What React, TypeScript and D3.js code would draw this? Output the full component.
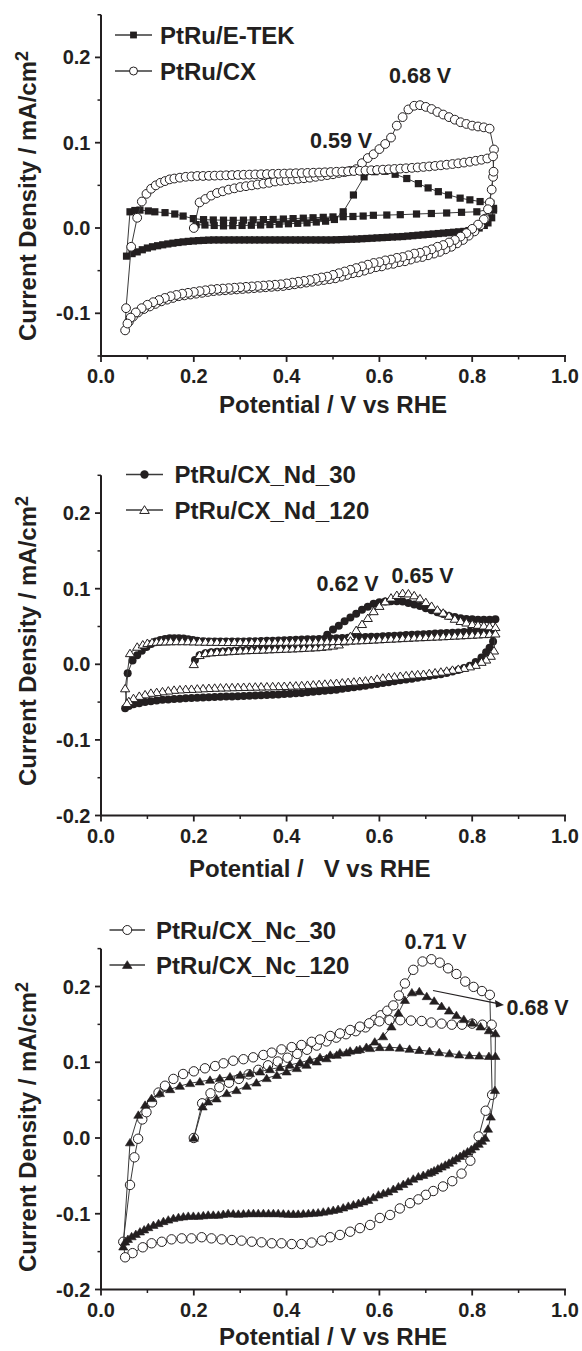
import React from "react";
import * as d3 from "d3";

type Pt = [number, number];
type Shape = "square" | "openCircle" | "dot" | "openTri" | "tri";

// ---------- tick values ----------
const xTickValues = [0, 0.2, 0.4, 0.6, 0.8, 1.0];
const xMinorValues = [0.1, 0.3, 0.5, 0.7, 0.9];
const yTicksA = [-0.1, 0, 0.1, 0.2];
const yMinorA = [-0.15, -0.05, 0.05, 0.15, 0.25];
const yTicksB = [-0.2, -0.1, 0, 0.1, 0.2];
const yMinorB = [-0.15, -0.05, 0.05, 0.15, 0.25];

// ---------- Panel 1 : PtRu/E-TEK (filled squares) ----------
const etekFirst: Pt[] = [[0.205,0.004],[0.224,0.0035],[0.244,0.003],[0.264,0.0025],[0.284,0.0028],[0.304,0.003],[0.324,0.0032],[0.344,0.0035],[0.364,0.004],[0.384,0.0045],[0.404,0.005],[0.424,0.0055],[0.444,0.006],[0.464,0.007],[0.484,0.008],[0.503,0.010],[0.522,0.019],[0.544,0.0387],[0.567,0.060],[0.590,0.066],[0.612,0.0665],[0.634,0.063],[0.659,0.058],[0.684,0.052],[0.705,0.047],[0.727,0.0426],[0.749,0.0387],[0.774,0.035],[0.795,0.033],[0.817,0.031],[0.840,0.029]];
const etekCathodic: Pt[] = [[0.846,0.021],[0.842,0.012],[0.834,0.006],[0.826,0.003],[0.815,0.000],[0.804,-0.0015],[0.793,-0.003],[0.782,-0.004],[0.771,-0.0045],[0.760,-0.005],[0.749,-0.0055],[0.738,-0.006],[0.727,-0.0065],[0.716,-0.007],[0.705,-0.0075],[0.694,-0.008],[0.683,-0.0085],[0.672,-0.009],[0.661,-0.0095],[0.650,-0.010],[0.639,-0.0103],[0.628,-0.0106],[0.617,-0.011],[0.606,-0.0113],[0.595,-0.0116],[0.584,-0.012],[0.573,-0.0123],[0.562,-0.0126],[0.551,-0.013],[0.540,-0.0132],[0.529,-0.0134],[0.518,-0.0136],[0.507,-0.0138],[0.496,-0.014],[0.485,-0.014],[0.474,-0.014],[0.463,-0.014],[0.452,-0.014],[0.441,-0.014],[0.430,-0.014],[0.419,-0.014],[0.408,-0.014],[0.397,-0.014],[0.386,-0.014],[0.375,-0.014],[0.364,-0.014],[0.353,-0.014],[0.342,-0.014],[0.331,-0.014],[0.320,-0.014],[0.309,-0.014],[0.298,-0.014],[0.287,-0.014],[0.276,-0.014],[0.265,-0.014],[0.254,-0.014],[0.243,-0.014],[0.232,-0.0142],[0.221,-0.0145],[0.210,-0.0148],[0.199,-0.0152],[0.188,-0.0157],[0.177,-0.0163],[0.166,-0.017],[0.155,-0.0178],[0.144,-0.0187],[0.133,-0.0197],[0.122,-0.0208],[0.111,-0.022],[0.100,-0.0235],[0.089,-0.0255],[0.078,-0.028],[0.067,-0.030],[0.055,-0.033]];
const etekSecond: Pt[] = [[0.0625,0.019],[0.073,0.0205],[0.084,0.021],[0.102,0.020],[0.116,0.019],[0.138,0.018],[0.159,0.0164],[0.177,0.014],[0.199,0.011],[0.221,0.0098],[0.242,0.0094],[0.264,0.0092],[0.285,0.009],[0.307,0.0092],[0.328,0.0095],[0.350,0.0098],[0.371,0.010],[0.393,0.0105],[0.414,0.011],[0.436,0.0115],[0.457,0.012],[0.479,0.0125],[0.500,0.013],[0.522,0.0132],[0.543,0.0135],[0.565,0.014],[0.587,0.0149],[0.616,0.0152],[0.645,0.0156],[0.680,0.0164],[0.712,0.017],[0.745,0.0176],[0.777,0.0184],[0.810,0.019],[0.846,0.023]];

// ---------- Panel 1 : PtRu/CX (open circles) ----------
const cxFirst: Pt[] = [[0.200,0.000],[0.2125,0.030],[0.225,0.034],[0.2375,0.038],[0.250,0.041],[0.2625,0.043],[0.275,0.045],[0.2875,0.0465],[0.300,0.048],[0.3125,0.049],[0.325,0.050],[0.3375,0.051],[0.350,0.052],[0.3625,0.053],[0.375,0.0545],[0.3875,0.0553],[0.400,0.056],[0.4125,0.057],[0.425,0.0577],[0.4375,0.0583],[0.450,0.059],[0.4625,0.060],[0.475,0.061],[0.4875,0.062],[0.500,0.063],[0.5125,0.0645],[0.525,0.0655],[0.5375,0.067],[0.550,0.069],[0.5625,0.076],[0.575,0.082],[0.5875,0.0865],[0.600,0.0925],[0.6125,0.0985],[0.625,0.106],[0.6375,0.120],[0.650,0.130],[0.6625,0.139],[0.675,0.1433],[0.6875,0.144],[0.700,0.142],[0.7125,0.1395],[0.725,0.136],[0.7375,0.133],[0.750,0.130],[0.7625,0.127],[0.775,0.124],[0.7875,0.122],[0.800,0.120],[0.8125,0.119],[0.825,0.118],[0.8375,0.1165]];
const cxCathodic1: Pt[] = [[0.847,0.092],[0.845,0.060],[0.838,0.030],[0.828,0.011],[0.8175,0.003],[0.805,-0.004],[0.7925,-0.009],[0.780,-0.014],[0.7675,-0.018],[0.755,-0.022],[0.7425,-0.025],[0.730,-0.028],[0.7175,-0.030],[0.705,-0.032],[0.6925,-0.034],[0.680,-0.035],[0.6675,-0.037],[0.655,-0.039],[0.6425,-0.040],[0.630,-0.042],[0.6175,-0.043],[0.605,-0.045],[0.5925,-0.046],[0.580,-0.048],[0.5675,-0.050],[0.555,-0.052],[0.5425,-0.053],[0.530,-0.055],[0.5175,-0.057],[0.505,-0.059],[0.4925,-0.060],[0.480,-0.061],[0.4675,-0.062],[0.455,-0.063],[0.4425,-0.064],[0.430,-0.065],[0.4175,-0.066],[0.405,-0.067],[0.3925,-0.068],[0.380,-0.0685],[0.3675,-0.069],[0.355,-0.0695],[0.3425,-0.070],[0.330,-0.0705],[0.3175,-0.071],[0.305,-0.0715],[0.2925,-0.072],[0.280,-0.0725],[0.2675,-0.073],[0.255,-0.0735],[0.2425,-0.074],[0.230,-0.075],[0.2175,-0.076],[0.205,-0.077],[0.1925,-0.078],[0.180,-0.079],[0.1675,-0.080],[0.155,-0.082],[0.1425,-0.084],[0.130,-0.086],[0.1175,-0.089],[0.105,-0.092],[0.0925,-0.095],[0.080,-0.099],[0.069,-0.104],[0.060,-0.110],[0.052,-0.120]];
const cxRise: Pt[] = [[0.054,-0.094],[0.065,-0.022],[0.078,0.012],[0.088,0.031]];
const cxSecond: Pt[] = [[0.098,0.040],[0.108,0.046],[0.118,0.050],[0.128,0.053],[0.138,0.055],[0.148,0.057],[0.158,0.058],[0.170,0.059],[0.1825,0.060],[0.195,0.0605],[0.2075,0.061],[0.220,0.061],[0.2325,0.0612],[0.245,0.0614],[0.2575,0.0616],[0.270,0.0618],[0.2825,0.062],[0.295,0.0622],[0.3075,0.0624],[0.320,0.0626],[0.3325,0.0628],[0.345,0.063],[0.3575,0.0632],[0.370,0.0634],[0.3825,0.0636],[0.395,0.0638],[0.4075,0.064],[0.420,0.0642],[0.4325,0.0644],[0.445,0.0646],[0.4575,0.0648],[0.470,0.065],[0.4825,0.0653],[0.495,0.0656],[0.5075,0.0659],[0.520,0.0662],[0.5325,0.0665],[0.545,0.0668],[0.5575,0.0671],[0.570,0.0674],[0.5825,0.0677],[0.595,0.068],[0.6075,0.0684],[0.620,0.0688],[0.6325,0.0692],[0.645,0.0696],[0.6575,0.070],[0.670,0.0705],[0.6825,0.071],[0.695,0.0716],[0.7075,0.0722],[0.720,0.0728],[0.7325,0.0735],[0.745,0.0742],[0.7575,0.075],[0.770,0.0758],[0.7825,0.0767],[0.795,0.0777],[0.8075,0.0788],[0.820,0.080],[0.8325,0.0815],[0.845,0.084]];
const cxCathodic2: Pt[] = [[0.846,0.066],[0.842,0.045],[0.834,0.022],[0.825,0.010],[0.8125,0.004],[0.800,-0.001],[0.7875,-0.006],[0.775,-0.010],[0.7625,-0.014],[0.750,-0.017],[0.7375,-0.020],[0.725,-0.022],[0.7125,-0.025],[0.700,-0.027],[0.6875,-0.029],[0.675,-0.030],[0.6625,-0.032],[0.650,-0.034],[0.6375,-0.035],[0.625,-0.037],[0.6125,-0.038],[0.600,-0.040],[0.5875,-0.041],[0.575,-0.043],[0.5625,-0.045],[0.550,-0.047],[0.5375,-0.049],[0.525,-0.051],[0.5125,-0.053],[0.500,-0.055],[0.4875,-0.057],[0.475,-0.058],[0.4625,-0.0595],[0.450,-0.061],[0.4375,-0.062],[0.425,-0.063],[0.4125,-0.064],[0.400,-0.065],[0.3875,-0.066],[0.375,-0.0665],[0.3625,-0.067],[0.350,-0.0675],[0.3375,-0.068],[0.325,-0.0685],[0.3125,-0.069],[0.300,-0.0695],[0.2875,-0.070],[0.275,-0.0705],[0.2625,-0.071],[0.250,-0.0715],[0.2375,-0.072],[0.225,-0.073],[0.2125,-0.074],[0.200,-0.075],[0.1875,-0.076],[0.175,-0.077],[0.1625,-0.0785],[0.150,-0.080],[0.1375,-0.082],[0.125,-0.0845],[0.1125,-0.087],[0.100,-0.090],[0.0875,-0.094],[0.075,-0.099],[0.064,-0.105],[0.057,-0.112]];

// ---------- Panel 2 : PtRu/CX_Nd_30 (filled circles) ----------
const nd30First: Pt[] = [[0.2025,0.0057],[0.2125,0.012],[0.225,0.0145],[0.2375,0.0158],[0.250,0.0165],[0.2625,0.017],[0.275,0.0175],[0.2875,0.018],[0.300,0.0185],[0.3125,0.0188],[0.325,0.0192],[0.3375,0.0195],[0.350,0.0198],[0.3625,0.0202],[0.375,0.0206],[0.3875,0.021],[0.400,0.0215],[0.4125,0.022],[0.425,0.0226],[0.4375,0.0233],[0.450,0.0242],[0.4625,0.0265],[0.475,0.032],[0.4875,0.039],[0.500,0.046],[0.5125,0.051],[0.525,0.057],[0.5375,0.062],[0.550,0.067],[0.5625,0.072],[0.575,0.076],[0.5875,0.080],[0.600,0.082],[0.6125,0.083],[0.625,0.0835],[0.6375,0.0835],[0.650,0.083],[0.6625,0.081],[0.675,0.079],[0.6875,0.077],[0.700,0.074],[0.7125,0.0715],[0.725,0.069],[0.7375,0.0665],[0.750,0.064],[0.7625,0.0625],[0.775,0.061],[0.7875,0.060],[0.800,0.0595],[0.8125,0.059],[0.825,0.059],[0.8375,0.059],[0.850,0.0595]];
const nd30Cathodic: Pt[] = [[0.845,0.030],[0.8375,0.022],[0.830,0.016],[0.820,0.009],[0.8075,0.003],[0.795,-0.002],[0.7825,-0.005],[0.770,-0.0075],[0.7575,-0.0095],[0.745,-0.0115],[0.7325,-0.013],[0.720,-0.014],[0.7075,-0.0155],[0.695,-0.0165],[0.6825,-0.0178],[0.670,-0.019],[0.6575,-0.020],[0.645,-0.0212],[0.6325,-0.0224],[0.620,-0.0236],[0.6075,-0.0248],[0.595,-0.026],[0.5825,-0.0272],[0.570,-0.0283],[0.5575,-0.0294],[0.545,-0.0305],[0.5325,-0.0315],[0.520,-0.0325],[0.5075,-0.0335],[0.495,-0.0343],[0.4825,-0.035],[0.470,-0.0357],[0.4575,-0.0364],[0.445,-0.0371],[0.4325,-0.0378],[0.420,-0.0384],[0.4075,-0.0389],[0.395,-0.0394],[0.3825,-0.0398],[0.370,-0.0402],[0.3575,-0.0406],[0.345,-0.041],[0.3325,-0.0413],[0.320,-0.0416],[0.3075,-0.0419],[0.295,-0.0422],[0.2825,-0.0425],[0.270,-0.0427],[0.2575,-0.0429],[0.245,-0.0432],[0.2325,-0.0435],[0.220,-0.0438],[0.2075,-0.0441],[0.195,-0.0445],[0.1825,-0.045],[0.170,-0.0455],[0.1575,-0.046],[0.145,-0.0465],[0.1325,-0.047],[0.120,-0.0478],[0.1075,-0.049],[0.095,-0.050],[0.0825,-0.0515],[0.070,-0.053],[0.060,-0.055],[0.052,-0.058]];
const nd30Second: Pt[] = [[0.0575,-0.012],[0.068,0.005],[0.078,0.012],[0.088,0.018],[0.098,0.023],[0.108,0.027],[0.118,0.030],[0.128,0.032],[0.138,0.0335],[0.148,0.0343],[0.158,0.0345],[0.168,0.0343],[0.178,0.034],[0.188,0.0333],[0.198,0.032],[0.2075,0.031],[0.220,0.0305],[0.2325,0.030],[0.245,0.030],[0.2575,0.030],[0.270,0.030],[0.2825,0.030],[0.295,0.030],[0.3075,0.0302],[0.320,0.0304],[0.3325,0.0306],[0.345,0.0308],[0.3575,0.031],[0.370,0.0312],[0.3825,0.0315],[0.395,0.0318],[0.4075,0.0321],[0.420,0.0324],[0.4325,0.0327],[0.445,0.033],[0.4575,0.0333],[0.470,0.0336],[0.4825,0.0339],[0.495,0.0342],[0.5075,0.0345],[0.520,0.0348],[0.5325,0.0351],[0.545,0.0354],[0.5575,0.0357],[0.570,0.036],[0.5825,0.0363],[0.595,0.0366],[0.6075,0.037],[0.620,0.0374],[0.6325,0.0378],[0.645,0.0382],[0.6575,0.0386],[0.670,0.039],[0.6825,0.0394],[0.695,0.0398],[0.7075,0.0402],[0.720,0.0406],[0.7325,0.041],[0.745,0.0414],[0.7575,0.0418],[0.770,0.0422],[0.7825,0.0426],[0.795,0.043],[0.8075,0.0435],[0.820,0.044],[0.8325,0.0447],[0.845,0.0455]];

// ---------- Panel 2 : PtRu/CX_Nd_120 (open triangles) ----------
const nd120First: Pt[] = [[0.200,0.000],[0.2125,0.012],[0.225,0.0145],[0.2375,0.0155],[0.250,0.016],[0.2625,0.0165],[0.275,0.017],[0.2875,0.0175],[0.300,0.018],[0.3125,0.0183],[0.325,0.0186],[0.3375,0.0189],[0.350,0.0192],[0.3625,0.0195],[0.375,0.0198],[0.3875,0.0201],[0.400,0.0204],[0.4125,0.0207],[0.425,0.021],[0.4375,0.0214],[0.450,0.0218],[0.4625,0.0222],[0.475,0.0228],[0.4875,0.0235],[0.500,0.0245],[0.5125,0.026],[0.525,0.030],[0.5375,0.037],[0.550,0.045],[0.5625,0.053],[0.575,0.061],[0.5875,0.070],[0.600,0.077],[0.6125,0.083],[0.625,0.088],[0.6375,0.0915],[0.650,0.094],[0.6625,0.0935],[0.675,0.091],[0.6875,0.087],[0.700,0.082],[0.7125,0.077],[0.725,0.072],[0.7375,0.068],[0.750,0.064],[0.7625,0.060],[0.775,0.057],[0.7875,0.055],[0.800,0.053],[0.8125,0.052],[0.825,0.051],[0.8375,0.050],[0.850,0.049]];
const nd120Cathodic: Pt[] = [[0.847,0.018],[0.840,0.011],[0.830,0.006],[0.820,0.003],[0.8075,-0.001],[0.795,-0.003],[0.7825,-0.005],[0.770,-0.0063],[0.7575,-0.0075],[0.745,-0.0088],[0.7325,-0.010],[0.720,-0.011],[0.7075,-0.012],[0.695,-0.013],[0.6825,-0.0135],[0.670,-0.014],[0.6575,-0.0148],[0.645,-0.0156],[0.6325,-0.0164],[0.620,-0.0172],[0.6075,-0.018],[0.595,-0.0195],[0.5825,-0.021],[0.570,-0.0218],[0.5575,-0.0225],[0.545,-0.0232],[0.5325,-0.0238],[0.520,-0.0244],[0.5075,-0.025],[0.495,-0.0255],[0.4825,-0.026],[0.470,-0.0265],[0.4575,-0.027],[0.445,-0.0275],[0.4325,-0.028],[0.420,-0.0283],[0.4075,-0.0286],[0.395,-0.0289],[0.3825,-0.0291],[0.370,-0.0293],[0.3575,-0.0295],[0.345,-0.0296],[0.3325,-0.0298],[0.320,-0.030],[0.3075,-0.0302],[0.295,-0.0304],[0.2825,-0.0306],[0.270,-0.0308],[0.2575,-0.031],[0.245,-0.0313],[0.2325,-0.0316],[0.220,-0.032],[0.2075,-0.0324],[0.195,-0.0328],[0.1825,-0.033],[0.170,-0.0335],[0.1575,-0.034],[0.145,-0.035],[0.1325,-0.036],[0.120,-0.037],[0.1075,-0.038],[0.095,-0.040],[0.0825,-0.042],[0.070,-0.045],[0.060,-0.049],[0.056,-0.0516]];
const nd120Second: Pt[] = [[0.052,-0.032],[0.0625,0.0145],[0.078,0.023],[0.090,0.026],[0.100,0.028],[0.110,0.029],[0.120,0.0295],[0.130,0.030],[0.140,0.030],[0.150,0.0302],[0.1625,0.0303],[0.175,0.0303],[0.1875,0.0302],[0.200,0.030],[0.2125,0.0298],[0.225,0.0296],[0.2375,0.0295],[0.250,0.0294],[0.2625,0.0293],[0.275,0.0292],[0.2875,0.0292],[0.300,0.0292],[0.3125,0.0292],[0.325,0.0292],[0.3375,0.0293],[0.350,0.0293],[0.3625,0.0294],[0.375,0.0294],[0.3875,0.0295],[0.400,0.0295],[0.4125,0.0296],[0.425,0.0297],[0.4375,0.0298],[0.450,0.0299],[0.4625,0.030],[0.475,0.0301],[0.4875,0.0302],[0.500,0.0304],[0.5125,0.0306],[0.525,0.0308],[0.5375,0.031],[0.550,0.0313],[0.5625,0.0316],[0.575,0.032],[0.5875,0.0324],[0.600,0.0328],[0.6125,0.0332],[0.625,0.0336],[0.6375,0.034],[0.650,0.0344],[0.6625,0.0348],[0.675,0.0352],[0.6875,0.0355],[0.700,0.0358],[0.7125,0.0362],[0.725,0.0365],[0.7375,0.0368],[0.750,0.0372],[0.7625,0.0376],[0.775,0.038],[0.7875,0.0384],[0.800,0.0388],[0.8125,0.0392],[0.825,0.0396],[0.8375,0.040],[0.850,0.0405]];

// ---------- Panel 3 : PtRu/CX_Nc_30 (open circles) ----------
const nc30First: Pt[] = [[0.200,0.000],[0.218,0.0458],[0.236,0.059],[0.255,0.067],[0.276,0.073],[0.297,0.078],[0.318,0.084],[0.339,0.090],[0.360,0.096],[0.381,0.101],[0.402,0.106],[0.423,0.111],[0.444,0.1165],[0.465,0.122],[0.486,0.1275],[0.507,0.1325],[0.528,0.137],[0.549,0.141],[0.570,0.146],[0.590,0.156],[0.603,0.162],[0.617,0.168],[0.630,0.175],[0.642,0.188],[0.655,0.204],[0.673,0.222],[0.693,0.233],[0.712,0.236],[0.730,0.2315],[0.748,0.224],[0.766,0.2165],[0.785,0.2065],[0.803,0.1995],[0.821,0.194],[0.838,0.189]];
const nc30Cathodic: Pt[] = [[0.843,0.057],[0.829,0.036],[0.814,0.002],[0.796,-0.030],[0.777,-0.047],[0.757,-0.057],[0.737,-0.064],[0.716,-0.070],[0.700,-0.075],[0.684,-0.081],[0.666,-0.086],[0.644,-0.093],[0.623,-0.1016],[0.601,-0.1056],[0.580,-0.1148],[0.558,-0.119],[0.537,-0.1237],[0.515,-0.128],[0.494,-0.131],[0.476,-0.1355],[0.454,-0.138],[0.432,-0.140],[0.411,-0.140],[0.389,-0.139],[0.368,-0.139],[0.346,-0.1377],[0.325,-0.1369],[0.303,-0.1355],[0.282,-0.1347],[0.260,-0.1338],[0.238,-0.1325],[0.217,-0.131],[0.195,-0.1325],[0.174,-0.1325],[0.152,-0.1338],[0.131,-0.137],[0.109,-0.139],[0.090,-0.1443],[0.068,-0.152],[0.052,-0.1575]];
const nc30Second: Pt[] = [[0.048,-0.137],[0.0625,-0.062],[0.072,-0.0255],[0.080,-0.001],[0.089,0.0245],[0.098,0.034],[0.110,0.047],[0.124,0.060],[0.138,0.069],[0.156,0.078],[0.177,0.0845],[0.200,0.088],[0.224,0.092],[0.246,0.095],[0.264,0.0986],[0.285,0.102],[0.307,0.104],[0.328,0.1065],[0.350,0.1096],[0.368,0.1127],[0.389,0.117],[0.411,0.120],[0.432,0.1228],[0.454,0.127],[0.472,0.130],[0.494,0.1347],[0.515,0.138],[0.537,0.1426],[0.558,0.147],[0.578,0.1514],[0.600,0.154],[0.622,0.1555],[0.645,0.1555],[0.668,0.155],[0.691,0.1545],[0.712,0.1525],[0.734,0.151],[0.756,0.1496],[0.778,0.1496],[0.800,0.151],[0.822,0.1496],[0.842,0.1496]];

// ---------- Panel 3 : PtRu/CX_Nc_120 (filled triangles) ----------
const nc120First: Pt[] = [[0.200,0.000],[0.219,0.0414],[0.231,0.048],[0.249,0.052],[0.271,0.059],[0.292,0.063],[0.314,0.0686],[0.335,0.073],[0.357,0.0788],[0.379,0.083],[0.400,0.0876],[0.422,0.092],[0.443,0.0964],[0.465,0.1008],[0.486,0.105],[0.508,0.1096],[0.529,0.1127],[0.551,0.116],[0.572,0.120],[0.590,0.127],[0.608,0.134],[0.626,0.147],[0.641,0.165],[0.655,0.182],[0.670,0.192],[0.686,0.1935],[0.702,0.187],[0.718,0.181],[0.734,0.174],[0.750,0.168],[0.766,0.162],[0.782,0.1567],[0.800,0.152],[0.818,0.147],[0.836,0.142],[0.850,0.138]];
const nc120Cathodic: Pt[] = [[0.849,0.063],[0.840,0.028],[0.834,0.012],[0.828,0.000],[0.821,-0.004],[0.814,-0.008],[0.806,-0.0115],[0.798,-0.015],[0.790,-0.018],[0.782,-0.021],[0.774,-0.024],[0.766,-0.027],[0.758,-0.030],[0.750,-0.033],[0.742,-0.0355],[0.734,-0.038],[0.726,-0.0405],[0.718,-0.043],[0.7115,-0.045],[0.705,-0.0466],[0.6945,-0.049],[0.684,-0.051],[0.673,-0.054],[0.662,-0.0576],[0.6515,-0.061],[0.641,-0.0642],[0.630,-0.0675],[0.619,-0.0708],[0.6085,-0.073],[0.598,-0.075],[0.587,-0.0785],[0.576,-0.082],[0.5655,-0.084],[0.555,-0.086],[0.544,-0.088],[0.533,-0.0898],[0.522,-0.092],[0.511,-0.094],[0.5005,-0.0952],[0.490,-0.0964],[0.479,-0.0975],[0.468,-0.0986],[0.4575,-0.099],[0.447,-0.0995],[0.436,-0.0999],[0.425,-0.1003],[0.4145,-0.1003],[0.404,-0.1003],[0.393,-0.100],[0.382,-0.0995],[0.3715,-0.0995],[0.361,-0.0995],[0.350,-0.0995],[0.339,-0.0995],[0.3285,-0.0995],[0.318,-0.0995],[0.307,-0.100],[0.296,-0.1003],[0.285,-0.100],[0.274,-0.0995],[0.2635,-0.1005],[0.253,-0.1016],[0.242,-0.1016],[0.231,-0.1016],[0.2205,-0.1023],[0.210,-0.103],[0.199,-0.103],[0.188,-0.103],[0.1775,-0.1038],[0.167,-0.1047],[0.156,-0.106],[0.145,-0.108],[0.1345,-0.110],[0.124,-0.1127],[0.113,-0.115],[0.102,-0.118],[0.093,-0.121],[0.084,-0.1237],[0.075,-0.127],[0.066,-0.130],[0.058,-0.1335],[0.052,-0.137],[0.048,-0.1435]];
const nc120Second: Pt[] = [[0.0625,-0.006],[0.0805,0.0304],[0.095,0.0436],[0.109,0.0524],[0.127,0.059],[0.149,0.0642],[0.170,0.0686],[0.192,0.0722],[0.213,0.0744],[0.235,0.0766],[0.256,0.0788],[0.278,0.081],[0.300,0.0832],[0.321,0.0854],[0.343,0.0876],[0.364,0.0906],[0.386,0.0933],[0.407,0.0964],[0.429,0.0995],[0.450,0.103],[0.472,0.1065],[0.494,0.1096],[0.515,0.1127],[0.537,0.115],[0.558,0.117],[0.580,0.1184],[0.601,0.1197],[0.622,0.1197],[0.644,0.119],[0.665,0.1175],[0.686,0.116],[0.708,0.1145],[0.729,0.113],[0.751,0.1115],[0.772,0.110],[0.794,0.109],[0.815,0.1085],[0.836,0.108],[0.850,0.108]];

const seriesNames = ["PtRu/E-TEK", "PtRu/CX", "PtRu/CX_Nd_30", "PtRu/CX_Nd_120", "PtRu/CX_Nc_30", "PtRu/CX_Nc_120"];
const peakNotesA = ["0.59 V", "0.68 V"];
const peakNotesB = ["0.62 V", "0.65 V"];
const peakNotesC = ["0.71 V", "0.68 V"];
const xTitleMain = "Potential / V vs RHE";
const xTitleSpaced = "Potential /   V vs RHE";
const yTitleMain = "Current Density / mA/cm";

// ---------- styling ----------
const INK = "#231f20";
const LINE = "#3a3a3a";
const FONT = "'Liberation Sans', Arial, Helvetica, sans-serif";

const xs = d3.scaleLinear().domain([0, 1]).range([101, 565]);

function Mark({ shape, x, y, s }: { shape: Shape; x: number; y: number; s: number }) {
  if (shape === "square") return <rect x={x - s / 2} y={y - s / 2} width={s} height={s} fill={INK} />;
  if (shape === "openCircle") return <circle cx={x} cy={y} r={s} fill="#fff" stroke={INK} strokeWidth={1} />;
  if (shape === "dot") return <circle cx={x} cy={y} r={s} fill={INK} />;
  const h = s * 0.9;
  const d = `M${x},${y - h}L${x + s},${y + h * 0.8}L${x - s},${y + h * 0.8}Z`;
  if (shape === "openTri") return <path d={d} fill="#fff" stroke={INK} strokeWidth={1} />;
  return <path d={d} fill={INK} stroke={INK} strokeWidth={0.6} />;
}

interface SeriesCfg { name: string; shape: Shape; size: number; legendSize: number; parts: Pt[][] }
interface NoteCfg { text: string; x: number; y: number }
interface PanelCfg {
  y0: number; k: number; yDomain: [number, number];
  yTicks: number[]; yMinor: number[];
  series: SeriesCfg[];
  legendLine: [number, number]; legendTextX: number; legendRows: number[];
  xTitle: string; xTitleX: number; xTitleAnchor: "start" | "middle"; xTitleY: number;
  yTitleY: number;
  notes: NoteCfg[];
  arrow?: [number, number, number, number];
}

const fmt = (v: number) => (Math.abs(v) < 1e-9 ? "0.0" : v.toFixed(1));

function Panel({ cfg }: { cfg: PanelCfg }) {
  const ys = d3.scaleLinear().domain(cfg.yDomain).range([cfg.y0 - cfg.k * cfg.yDomain[0], cfg.y0 - cfg.k * cfg.yDomain[1]]);
  const yBottom = ys(cfg.yDomain[0]);
  const yTop = ys(cfg.yDomain[1]);
  const line = d3.line<Pt>().x((d) => xs(d[0])).y((d) => ys(d[1]));
  const axisX = xs(0);
  return (
    <g>
      <line x1={axisX} x2={axisX} y1={yTop} y2={yBottom} stroke={INK} strokeWidth={2} />
      <line x1={axisX - 1} x2={xs(1) + 1} y1={yBottom} y2={yBottom} stroke={INK} strokeWidth={2} />
      {xTickValues.map((v) => (
        <g key={"xt" + v}>
          <line x1={xs(v)} x2={xs(v)} y1={yBottom} y2={yBottom + 6} stroke={INK} strokeWidth={1.8} />
          <text x={xs(v)} y={yBottom + 27.5} textAnchor="middle" fontSize={20} fontWeight="bold" fill={INK}>{fmt(v)}</text>
        </g>
      ))}
      {xMinorValues.map((v) => (
        <line key={"xm" + v} x1={xs(v)} x2={xs(v)} y1={yBottom} y2={yBottom + 3.5} stroke={INK} strokeWidth={1.5} />
      ))}
      {cfg.yTicks.map((v) => (
        <g key={"yt" + v}>
          <line x1={axisX - 6} x2={axisX} y1={ys(v)} y2={ys(v)} stroke={INK} strokeWidth={1.8} />
          <text x={90.5} y={ys(v) + 7} textAnchor="end" fontSize={20} fontWeight="bold" fill={INK}>{fmt(v)}</text>
        </g>
      ))}
      {cfg.yMinor.map((v) => (
        <line key={"ym" + v} x1={axisX - 3.5} x2={axisX} y1={ys(v)} y2={ys(v)} stroke={INK} strokeWidth={1.5} />
      ))}
      <text x={cfg.xTitleX} y={cfg.xTitleY} textAnchor={cfg.xTitleAnchor} fontSize={24} fontWeight="bold" fill={INK} style={{ whiteSpace: "pre" }}>{cfg.xTitle}</text>
      <text transform={`translate(35.5,${cfg.yTitleY}) rotate(-90)`} textAnchor="middle" fontSize={24} fontWeight="bold" fill={INK}>
        {yTitleMain}
        <tspan dy={-8} fontSize={18}>2</tspan>
      </text>
      {cfg.series.map((s) => {
        const pts = s.parts.flat();
        return (
          <g key={s.name}>
            <path d={line(pts) || ""} fill="none" stroke={LINE} strokeWidth={1} />
            {pts.map((p, i) => (
              <Mark key={i} shape={s.shape} x={xs(p[0])} y={ys(p[1])} s={s.size} />
            ))}
          </g>
        );
      })}
      {cfg.series.map((s, i) => (
        <g key={"lg" + s.name}>
          <line x1={cfg.legendLine[0]} x2={cfg.legendLine[1]} y1={cfg.legendRows[i]} y2={cfg.legendRows[i]} stroke={LINE} strokeWidth={1.3} />
          <Mark shape={s.shape} x={(cfg.legendLine[0] + cfg.legendLine[1]) / 2} y={cfg.legendRows[i]} s={s.legendSize} />
          <text x={cfg.legendTextX} y={cfg.legendRows[i] + 8.5} fontSize={24} fontWeight="bold" fill={INK}>{s.name}</text>
        </g>
      ))}
      {cfg.notes.map((n) => (
        <text key={n.text + n.x} x={n.x} y={n.y} fontSize={21.5} fontWeight="bold" fill={INK}>{n.text}</text>
      ))}
      {cfg.arrow && (
        <g>
          <line x1={cfg.arrow[0]} y1={cfg.arrow[1]} x2={cfg.arrow[2] - 6} y2={cfg.arrow[3] - 1.3} stroke={INK} strokeWidth={1.2} />
          <path d={`M${cfg.arrow[2]},${cfg.arrow[3]}L${cfg.arrow[2] - 9},${cfg.arrow[3] - 5}L${cfg.arrow[2] - 8},${cfg.arrow[3] + 2.5}Z`} fill={INK} />
        </g>
      )}
    </g>
  );
}

export default function App() {
  const panels: PanelCfg[] = [
    {
      y0: 228, k: 853, yDomain: [-0.15, 0.25], yTicks: yTicksA, yMinor: yMinorA,
      series: [
        { name: seriesNames[0], shape: "square", size: 7.2, legendSize: 6.8, parts: [etekFirst, etekCathodic, etekSecond] },
        { name: seriesNames[1], shape: "openCircle", size: 4.4, legendSize: 4, parts: [cxFirst, cxCathodic1, cxRise, cxSecond, cxCathodic2] },
      ],
      legendLine: [115, 152], legendTextX: 160, legendRows: [35, 71],
      xTitle: xTitleMain, xTitleX: 333, xTitleAnchor: "middle", xTitleY: 413,
      yTitleY: 196,
      notes: [{ text: peakNotesA[0], x: 310, y: 148 }, { text: peakNotesA[1], x: 389, y: 83 }],
    },
    {
      y0: 664.3, k: 756, yDomain: [-0.2, 0.25], yTicks: yTicksB, yMinor: yMinorB,
      series: [
        { name: seriesNames[2], shape: "dot", size: 4, legendSize: 4.2, parts: [nd30First, nd30Cathodic, nd30Second] },
        { name: seriesNames[3], shape: "openTri", size: 4.6, legendSize: 4.8, parts: [nd120First, nd120Cathodic, nd120Second] },
      ],
      legendLine: [126, 163], legendTextX: 174.5, legendRows: [474.5, 510],
      xTitle: xTitleSpaced, xTitleX: 189, xTitleAnchor: "start", xTitleY: 877,
      yTitleY: 641,
      notes: [{ text: peakNotesB[0], x: 316.5, y: 590.5 }, { text: peakNotesB[1], x: 391.5, y: 582.5 }],
    },
    {
      y0: 1138, k: 757.5, yDomain: [-0.2, 0.25], yTicks: yTicksB, yMinor: yMinorB,
      series: [
        { name: seriesNames[4], shape: "openCircle", size: 4.7, legendSize: 4.5, parts: [nc30First, nc30Cathodic, nc30Second] },
        { name: seriesNames[5], shape: "tri", size: 4.6, legendSize: 4.8, parts: [nc120First, nc120Cathodic, nc120Second] },
      ],
      legendLine: [109.5, 145], legendTextX: 156, legendRows: [930, 965],
      xTitle: xTitleMain, xTitleX: 333, xTitleAnchor: "middle", xTitleY: 1345,
      yTitleY: 1127,
      notes: [{ text: peakNotesC[0], x: 404.5, y: 949 }, { text: peakNotesC[1], x: 506.5, y: 1015 }],
      arrow: [433, 990.5, 504, 1005],
    },
  ];
  return (
    <svg width={582} height={1351} viewBox="0 0 582 1351" style={{ position: "absolute", left: 0, top: 0, background: "#fff" }} fontFamily={FONT}>
      <rect x={0} y={0} width={582} height={1351} fill="#fff" />
      {panels.map((p, i) => (
        <Panel key={i} cfg={p} />
      ))}
    </svg>
  );
}
